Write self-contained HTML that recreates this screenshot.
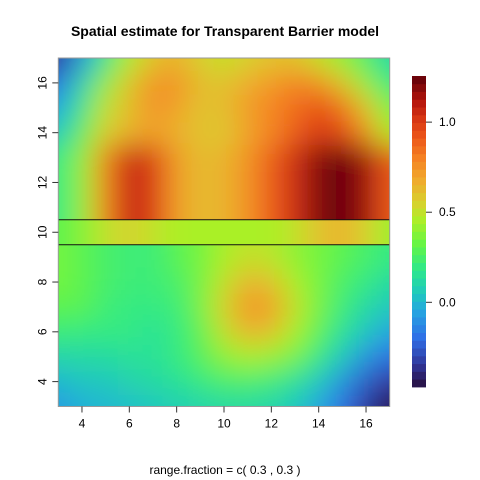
<!DOCTYPE html>
<html><head><meta charset="utf-8"><style>
html,body{margin:0;padding:0;background:#fff;}
svg{display:block;font-family:"Liberation Sans",Arial,sans-serif;}
</style></head><body>
<svg id="chart" width="480" height="480" viewBox="0 0 480 480">
<defs>
<filter id="blur" x="-30%" y="-30%" width="160%" height="160%"><feGaussianBlur stdDeviation="14" edgeMode="duplicate"/></filter>
<filter id="blurB" x="-30%" y="-30%" width="160%" height="160%"><feGaussianBlur stdDeviation="14 6" edgeMode="duplicate"/></filter>
<clipPath id="clipUp"><rect id="cu"/></clipPath>
<clipPath id="clipBand"><rect id="cb"/></clipPath>
<clipPath id="clipLow"><rect id="cl"/></clipPath>
</defs>
<text x="225" y="36" text-anchor="middle" font-size="14" font-weight="bold">Spatial estimate for Transparent Barrier model</text>
<g id="heat"></g>
<g id="axes"></g>
<g id="cbar"></g>
<text x="225" y="474" text-anchor="middle" font-size="12">range.fraction = c( 0.3 ,  0.3 )</text>
</svg>
<script>
const xCoords=[3,4,5,6,7,8,9,10,11,12,13,14,15,16,17];
const yCoords=[17,16,15,14,13,12,11,10,9,8,7,6,5,4,3];
const zValues=[
[-0.35,-0.1,0.2,0.45,0.6,0.65,0.55,0.5,0.55,0.6,0.6,0.5,0.4,0.25,0.1],
[-0.2,0.1,0.4,0.6,0.75,0.75,0.62,0.6,0.68,0.72,0.8,0.75,0.6,0.4,0.2],
[-0.05,0.2,0.5,0.62,0.75,0.7,0.6,0.62,0.72,0.8,0.85,0.95,0.85,0.6,0.35],
[0.05,0.3,0.55,0.65,0.7,0.65,0.6,0.58,0.7,0.78,0.9,1.0,0.95,0.75,0.45],
[0.1,0.35,0.55,0.68,0.7,0.65,0.55,0.6,0.72,0.8,0.95,1.08,1.05,0.9,0.6],
[0.15,0.38,0.6,0.82,0.78,0.65,0.6,0.62,0.72,0.85,1.0,1.18,1.2,1.05,0.75],
[0.2,0.4,0.8,1.08,1.0,0.72,0.62,0.65,0.75,0.9,1.05,1.2,1.25,1.15,0.9],
[0.3,0.38,0.5,0.55,0.5,0.45,0.45,0.45,0.45,0.45,0.5,0.6,0.65,0.55,0.42],
[0.35,0.3,0.25,0.22,0.22,0.3,0.35,0.45,0.5,0.48,0.4,0.35,0.3,0.25,0.2],
[0.35,0.3,0.25,0.22,0.22,0.25,0.35,0.5,0.65,0.6,0.45,0.35,0.25,0.2,0.12],
[0.3,0.3,0.22,0.2,0.2,0.22,0.35,0.55,0.75,0.72,0.5,0.35,0.22,0.12,0.05],
[0.22,0.2,0.2,0.2,0.15,0.2,0.3,0.5,0.65,0.6,0.45,0.3,0.15,0.05,-0.05],
[0.1,0.12,0.12,0.15,0.15,0.2,0.28,0.4,0.45,0.42,0.35,0.2,0.05,-0.1,-0.2],
[0.0,0.05,0.05,0.1,0.12,0.15,0.2,0.25,0.25,0.22,0.15,0.05,-0.1,-0.25,-0.35],
[-0.08,-0.02,0.0,0.02,0.05,0.08,0.1,0.12,0.12,0.1,0.05,-0.05,-0.2,-0.35,-0.45]];
const xTicks=[4,6,8,10,12,14,16];
const yTicks=[4,6,8,10,12,14,16];
const barrierLines=[9.5,10.5];
const legendTicks=[0.0,0.5,1.0];
const zMin=-0.47, zMax=1.256;

const NS="http://www.w3.org/2000/svg";
const X0=58.3,X1=389.7,Y0=58,Y1=406.5;
const sx=v=>X0+(v-3)/(17-3)*(X1-X0);
const sy=v=>Y1-(v-3)/(17-3)*(Y1-Y0);
const CB_X=412,CB_W=14,CB_T=76,CB_B=387;
const cy=v=>CB_B-(v-zMin)/(zMax-zMin)*(CB_B-CB_T);
const stops=[[-0.47,[40,14,60]],[-0.35,[48,52,150]],[-0.2,[48,110,230]],[-0.05,[38,165,225]],[0.05,[32,200,190]],[0.18,[45,232,140]],[0.32,[100,245,70]],[0.45,[170,240,40]],[0.55,[215,210,45]],[0.68,[240,170,45]],[0.8,[245,130,35]],[0.92,[235,85,25]],[1.02,[215,55,20]],[1.12,[180,20,12]],[1.256,[95,0,8]]];
function col(v){
 if(v<=stops[0][0])return `rgb(${stops[0][1]})`;
 for(let i=1;i<stops.length;i++){if(v<=stops[i][0]){const a=stops[i-1],b=stops[i],t=(v-a[0])/(b[0]-a[0]);
 return 'rgb('+a[1].map((c,j)=>Math.round(c+(b[1][j]-c)*t)).join(',')+')';}}
 return `rgb(${stops[stops.length-1][1]})`;}
function mk(tag,attrs,parent){const e=document.createElementNS(NS,tag);for(const k in attrs)e.setAttribute(k,attrs[k]);parent.appendChild(e);return e;}
function setR(id,x,y,w,h){const r=document.getElementById(id);r.setAttribute('x',x);r.setAttribute('y',y);r.setAttribute('width',w);r.setAttribute('height',h);}
setR('cu',X0,Y0,X1-X0,sy(10.5)-Y0);
setR('cb',X0,sy(10.5),X1-X0,sy(9.5)-sy(10.5));
setR('cl',X0,sy(9.5),X1-X0,Y1-sy(9.5));
const heat=document.getElementById('heat');
const regions=[['clipUp',y=>y>=11,11,'blur'],['clipBand',y=>y===10,10,'blurB'],['clipLow',y=>y<=9,9,'blur']];
regions.forEach(([clip,keep,edgeRow,flt])=>{
 const outer=mk('g',{'clip-path':`url(#${clip})`},heat);
 const g=mk('g',{filter:`url(#${flt})`},outer);
 yCoords.forEach((yv,r)=>{
  if(!keep(yv))return;
  xCoords.forEach((xv,c)=>{
   let x0=sx(xv-0.5),x1=sx(xv+0.5);
   if(c===0)x0-=50; if(c===xCoords.length-1)x1+=50;
   let y0=sy(yv+0.5),y1=sy(yv-0.5);
   if(yv===edgeRow){y0-=50;y1+=50;}
   if(r===0)y0-=50; if(r===yCoords.length-1)y1+=50;
   const rc=mk('rect',{x:x0,y:y0,width:x1-x0+0.5,height:y1-y0+0.5,fill:col(zValues[r][c])},g);
   
   
  });
 });
});
barrierLines.forEach(b=>{
 const l=mk('line',{x1:X0,x2:X1,y1:sy(b),y2:sy(b),stroke:'#111','stroke-width':1},heat);
 
 
});
const axes=document.getElementById('axes');
const fr=mk('rect',{x:X0,y:Y0,width:X1-X0,height:Y1-Y0,fill:'none',stroke:'#999','stroke-width':1},axes);


xTicks.forEach(t=>{
 mk('line',{x1:sx(t),x2:sx(t),y1:Y1,y2:Y1+6,stroke:'#333'},axes);
 const tx=mk('text',{x:sx(t),y:Y1+21,'text-anchor':'middle','font-size':12},axes);
 tx.textContent=t;
 
 
});
yTicks.forEach(t=>{
 mk('line',{x1:X0-6,x2:X0,y1:sy(t),y2:sy(t),stroke:'#333'},axes);
 const tx=mk('text',{x:0,y:0,'text-anchor':'middle','font-size':12,transform:`translate(${X0-12},${sy(t)}) rotate(-90)`},axes);
 tx.textContent=t;
 
 
});
const cbar=document.getElementById('cbar');
const nb=40;
for(let i=0;i<nb;i++){
 const v0=zMin+(zMax-zMin)*i/nb,v1=zMin+(zMax-zMin)*(i+1)/nb;
 const r=mk('rect',{x:CB_X,y:cy(v1),width:CB_W,height:cy(v0)-cy(v1)+0.4,fill:col((v0+v1)/2)},cbar);
 
 
}
legendTicks.forEach(t=>{
 mk('line',{x1:CB_X+CB_W,x2:CB_X+CB_W+6,y1:cy(t),y2:cy(t),stroke:'#333'},cbar);
 const tx=mk('text',{x:CB_X+CB_W+13,y:cy(t)+4,'font-size':12},cbar);
 tx.textContent=t.toFixed(1);
 
 
});
</script>
</body></html>
